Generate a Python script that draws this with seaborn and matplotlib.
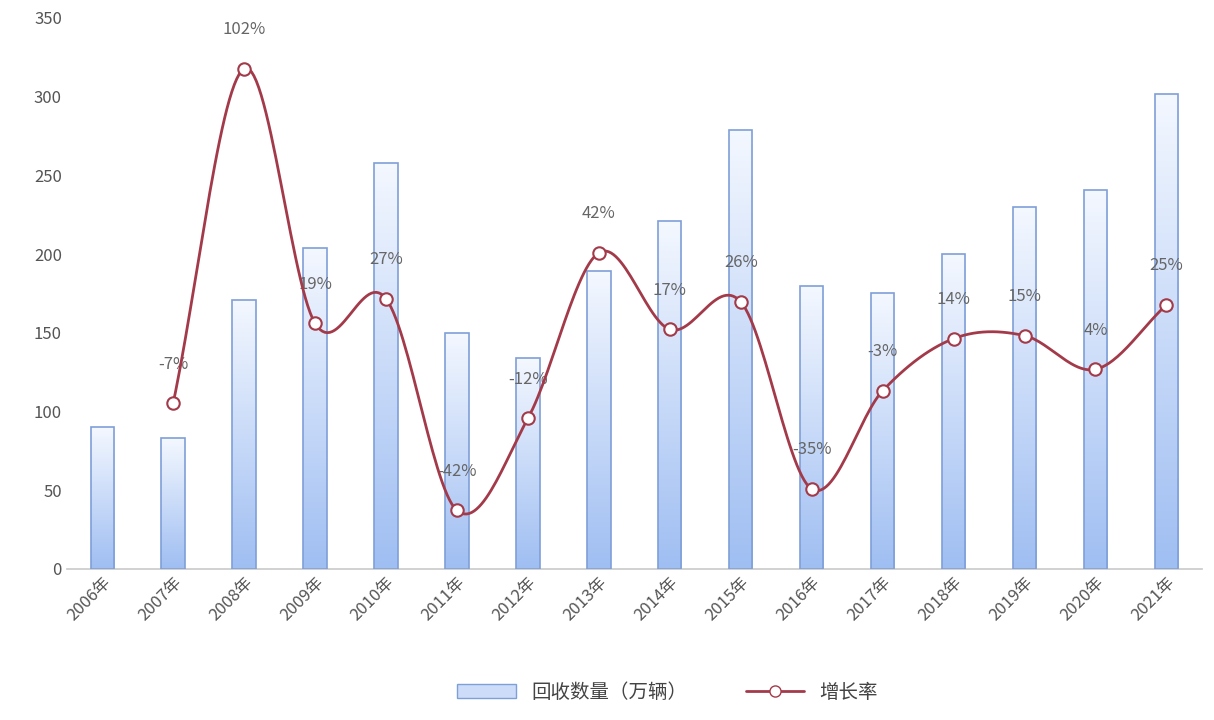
import numpy as np
import pandas as pd
import matplotlib
matplotlib.use("Agg")
import matplotlib.pyplot as plt
import seaborn as sns
from matplotlib.lines import Line2D
from matplotlib.patches import Patch

years = [f"{y}年" for y in range(2006, 2022)]
volume = [90, 83, 171, 204, 258, 150, 134, 189, 221, 279, 180, 175, 200, 230, 241, 302]
growth_years = years[1:]
growth = [-7, 102, 19, 27, -42, -12, 42, 17, 26, -35, -3, 14, 15, 4, 25]

sns.set_theme(style="white")
plt.rcParams['font.family'] = ['Noto Sans CJK SC', 'DejaVu Sans']

fig = plt.figure(figsize=(12.14, 7.2), dpi=100)
ax = fig.add_axes([0.055, 0.21, 0.935, 0.765])
df = pd.DataFrame({"year": years, "volume": volume})
sns.barplot(data=df, x="year", y="volume", ax=ax, width=0.33,
            color="#dbe6fa", edgecolor="#7f9fd8", linewidth=1.2)
# gradient fill
grad = np.linspace(0, 1, 256).reshape(-1, 1)
from matplotlib.colors import LinearSegmentedColormap
cmap = LinearSegmentedColormap.from_list("g", ["#9fbef2", "#f4f8ff"])
for p in ax.patches:
    x0, y0, w, h = p.get_x(), p.get_y(), p.get_width(), p.get_height()
    im = ax.imshow(grad, cmap=cmap, extent=[x0, x0 + w, y0, y0 + h],
                   origin="lower", aspect="auto", zorder=p.get_zorder() + 0.1)
    im.set_clip_path(p)
    p.set_facecolor("none")
    p.set_zorder(3)
ax.set_xlim(-0.5, 15.5)
ax.set_ylim(0, 350)
ax.set_yticks(range(0, 351, 50))
ax.set_xlabel(""); ax.set_ylabel("")
ax.tick_params(axis="y", colors="#555555", labelsize=12, length=0)
ax.tick_params(axis="x", colors="#555555", labelsize=12, length=0)
plt.setp(ax.get_xticklabels(), rotation=45, ha="right", rotation_mode="anchor")
for s in ["top", "right", "left"]:
    ax.spines[s].set_visible(False)
ax.spines["bottom"].set_color("#cccccc")

ax2 = ax.twinx()
ax2.set_ylim(-61.0, 118.5)
ax2.axis("off")
xs = np.arange(1, 16, dtype=float)
ys = np.array(growth, dtype=float)
# smooth curve (Catmull-Rom) through the data points
px, py = [], []
n = len(xs)
for i in range(n - 1):
    p0 = ys[i - 1] if i > 0 else ys[i]
    p3 = ys[i + 2] if i + 2 < n else ys[i + 1]
    m1 = (ys[i + 1] - p0) / 2 if i > 0 else ys[i + 1] - ys[i]
    m2 = (p3 - ys[i]) / 2 if i + 2 < n else ys[i + 1] - ys[i]
    t = np.linspace(0, 1, 30)
    h00 = 2*t**3 - 3*t**2 + 1; h10 = t**3 - 2*t**2 + t
    h01 = -2*t**3 + 3*t**2; h11 = t**3 - t**2
    px.extend(xs[i] + t); py.extend(h00*ys[i] + h10*m1 + h01*ys[i+1] + h11*m2)
ax2.plot(px, py, color="#a33a4a", lw=2, zorder=5)
sns.scatterplot(x=xs, y=ys, ax=ax2, s=80, color="white", edgecolor="#a33a4a",
                linewidth=1.5, zorder=6, legend=False)
for x, y in zip(xs, ys):
    ax2.annotate(f"{int(y)}%", (x, y), xytext=(0, 22), textcoords="offset points",
                 ha="center", va="bottom", color="#666666", fontsize=12)

handles = [Patch(facecolor="#cddcf8", edgecolor="#7f9fd8", label="回收数量（万辆）"),
           Line2D([0], [0], color="#a33a4a", lw=2, marker="o", markerfacecolor="white",
                  markersize=8, label="增长率")]
fig.legend(handles=handles, loc="lower center", ncol=2, frameon=False,
           fontsize=14, bbox_to_anchor=(0.55, 0.0), handlelength=3, columnspacing=3,
           labelcolor="#444444")
fig.savefig("out.png", dpi=100)
